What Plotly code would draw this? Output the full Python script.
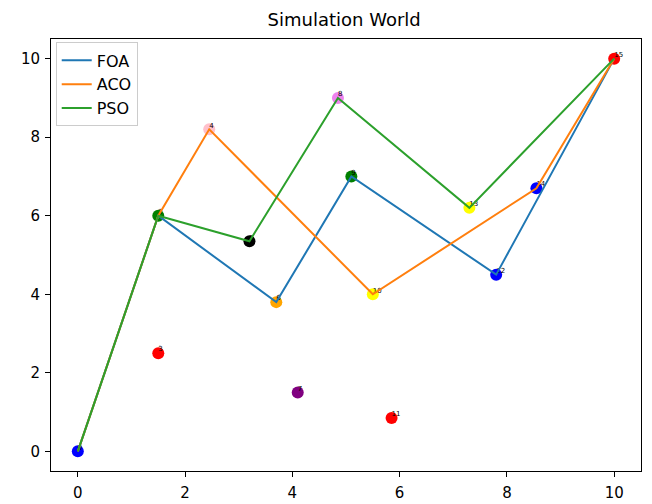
import plotly.graph_objects as go

# Nodes
node_x = [0, 1.5, 1.5, 2.45, 3.2, 3.7, 4.1, 4.85, 5.1, 5.5, 5.85, 7.8, 7.3, 8.55, 10]
node_y = [0, 6.0, 2.5, 8.2, 5.35, 3.8, 1.5, 9.0, 7.0, 4.0, 0.85, 4.5, 6.2, 6.7, 10]
node_labels = ["0", "2", "3", "4", "5", "6", "7", "8", "9", "10", "11", "12", "13", "14", "15"]
node_colors = ["blue", "green", "red", "pink", "black", "orange", "purple", "violet",
               "green", "yellow", "red", "blue", "yellow", "blue", "red"]

# Paths
foa_x = [0, 1.5, 3.7, 5.1, 7.8, 10]
foa_y = [0, 6.0, 3.8, 7.0, 4.5, 10]
aco_x = [0, 1.5, 2.45, 5.5, 8.55, 10]
aco_y = [0, 6.0, 8.2, 4.0, 6.7, 10]
pso_x = [0, 1.5, 3.2, 4.85, 7.3, 10]
pso_y = [0, 6.0, 5.35, 9.0, 6.2, 10]

fig = go.Figure()
fig.add_trace(go.Scatter(x=node_x, y=node_y, mode="markers",
                         marker=dict(color=node_colors, size=12, line=dict(width=0)),
                         showlegend=False, hoverinfo="skip"))
fig.add_trace(go.Scatter(x=node_x, y=node_y, mode="text", text=node_labels,
                         textposition="top right",
                         textfont=dict(family="DejaVu Sans", size=7, color="black"),
                         marker=dict(size=1), showlegend=False, hoverinfo="skip"))
for name, xs, ys, c in [("FOA", foa_x, foa_y, "#1f77b4"),
                        ("ACO", aco_x, aco_y, "#ff7f0e"),
                        ("PSO", pso_x, pso_y, "#2ca02c")]:
    fig.add_trace(go.Scatter(x=xs, y=ys, mode="lines", name=name,
                             line=dict(color=c, width=2)))

axis_common = dict(showline=True, linecolor="black", linewidth=1, mirror=True,
                   ticks="outside", ticklen=5, tickcolor="black", showgrid=False,
                   zeroline=False, automargin=False,
                   tickfont=dict(family="DejaVu Sans", size=15, color="black"))
fig.update_xaxes(range=[-0.5, 10.5], tickvals=[0, 2, 4, 6, 8, 10],
                 ticklabelstandoff=3, **axis_common)
fig.update_yaxes(range=[-0.5, 10.5], tickvals=[0, 2, 4, 6, 8, 10],
                 ticklabelstandoff=2, **axis_common)

fig.update_layout(
    width=644, height=496,
    margin=dict(l=43, r=11, t=31, b=33),
    plot_bgcolor="white", paper_bgcolor="white",
    title=dict(text="Simulation World", x=0.522, xanchor="center", y=0.977, yanchor="middle",
               font=dict(family="DejaVu Sans", size=18, color="black")),
    legend=dict(x=0.008, y=0.992, xanchor="left", yanchor="top",
                bordercolor="#cccccc", borderwidth=1, bgcolor="rgba(255,255,255,0.8)",
                font=dict(family="DejaVu Sans", size=16, color="black")),
    font=dict(family="DejaVu Sans"),
)

fig.write_html("out.html")
